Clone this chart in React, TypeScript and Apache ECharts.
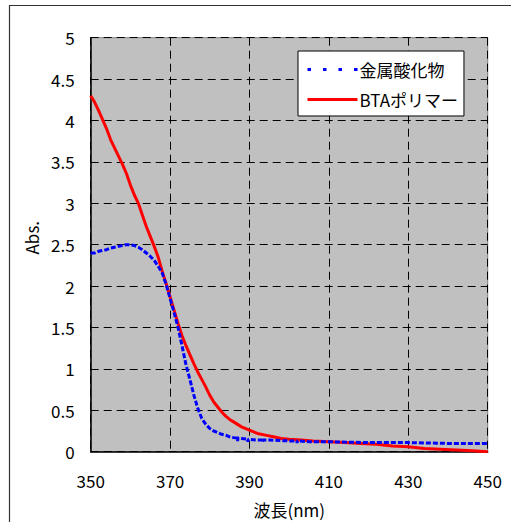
import React, { useEffect, useRef } from "react";
import * as echarts from "echarts";

const seriesNames = ["金属酸化物", "BTAポリマー"];

const oxideNm = [350, 351, 352, 353, 354, 355, 356, 357, 358, 359, 360, 361, 362, 363, 364, 365, 366, 367, 368, 369, 370, 371, 372, 373, 374, 375, 376, 377, 378, 379, 380, 381, 382, 383, 384, 385, 386, 386.9, 387, 387.1, 388, 389.5, 389.6, 389.7, 390, 392, 393.2, 393.3, 393.4, 395, 400, 401.9, 402, 402.1, 405, 410, 420, 430, 440, 450];
const oxideAbs = [2.40, 2.40, 2.42, 2.43, 2.44, 2.46, 2.47, 2.48, 2.49, 2.50, 2.50, 2.49, 2.47, 2.44, 2.40, 2.36, 2.31, 2.24, 2.16, 2.02, 1.85, 1.68, 1.50, 1.28, 1.05, 0.87, 0.68, 0.52, 0.40, 0.33, 0.28, 0.25, 0.23, 0.21, 0.20, 0.18, 0.17, 0.165, 0.13, 0.165, 0.16, 0.15, 0.12, 0.15, 0.15, 0.14, 0.14, 0.115, 0.14, 0.14, 0.13, 0.13, 0.105, 0.13, 0.12, 0.12, 0.11, 0.11, 0.10, 0.10];

const polymerNm = [350, 351, 352, 353, 354, 355, 356, 357, 358, 359, 360, 361, 362, 363, 364, 365, 366, 367, 368, 369, 370, 371, 372, 373, 374, 375, 376, 377, 378, 379, 380, 381, 382, 383, 384, 385, 386, 387, 388, 390, 392, 394, 396, 398, 400, 403, 406, 410, 414, 418, 422, 426, 430, 434, 438, 442, 446, 450];
const polymerAbs = [4.30, 4.22, 4.12, 4.01, 3.90, 3.77, 3.67, 3.57, 3.47, 3.36, 3.22, 3.10, 3.00, 2.86, 2.72, 2.60, 2.48, 2.35, 2.18, 2.03, 1.87, 1.71, 1.55, 1.40, 1.28, 1.17, 1.06, 0.96, 0.87, 0.78, 0.68, 0.60, 0.54, 0.48, 0.43, 0.39, 0.36, 0.33, 0.30, 0.26, 0.22, 0.20, 0.18, 0.16, 0.15, 0.14, 0.13, 0.12, 0.11, 0.10, 0.09, 0.07, 0.06, 0.04, 0.03, 0.02, 0.01, 0.00];

const xMin = 350;
const xMax = 450;
const xStep = 20;
const yMin = 0;
const yMax = 5;
const yStep = 0.5;

const FONT = "'Noto Sans CJK JP', 'Noto Sans', sans-serif";

export default function App() {
  const ref = useRef<HTMLDivElement>(null);
  useEffect(() => {
    document.body.style.margin = "0";
    if (!ref.current) return;
    const chart = echarts.init(ref.current, undefined, { renderer: "svg" });
    const oxideData = oxideNm.map((x, i) => [x, oxideAbs[i]]);
    const polymerData = polymerNm.map((x, i) => [x, polymerAbs[i]]);
    chart.setOption({
      animation: false,
      backgroundColor: "#ffffff",
      textStyle: { fontFamily: FONT },
      graphic: [
        {
          type: "rect",
          shape: { x: 9.5, y: 5.5, width: 700, height: 700 },
          style: { fill: "none", stroke: "#333333", lineWidth: 1.2 },
          silent: true,
          z: 100,
        },
      ],
      grid: {
        left: 90.7,
        top: 37.7,
        right: 23.3,
        bottom: 70.3,
        outerBoundsMode: "none",
        containLabel: false,
        show: true,
        backgroundColor: "#c0c0c0",
        borderColor: "#808080",
        borderWidth: 1,
      },
      legend: {
        orient: "vertical",
        left: 298,
        top: 51,
        backgroundColor: "#ffffff",
        borderColor: "#000000",
        borderWidth: 1,
        padding: [10, 6, 8, 8],
        itemGap: 13,
        itemWidth: 50,
        itemHeight: 14,
        textStyle: { fontFamily: FONT, fontSize: 17, color: "#000", padding: [0, 0, 0, -3] },
        data: [
          { name: seriesNames[0], lineStyle: { type: [3.5, 12], width: 3 }, itemStyle: { opacity: 0 } },
          { name: seriesNames[1], lineStyle: { type: "solid", width: 3 }, itemStyle: { opacity: 0 } },
        ],
      },
      xAxis: {
        type: "value",
        min: xMin,
        max: xMax,
        interval: xStep,
        name: "波長(nm)",
        nameLocation: "middle",
        nameGap: 49,
        nameTextStyle: { fontFamily: FONT, fontSize: 17, color: "#000" },
        axisLine: { show: true, onZero: false, lineStyle: { color: "#000", width: 1.5 } },
        axisTick: { show: false },
        axisLabel: { fontFamily: FONT, fontSize: 17, color: "#000", margin: 20 },
        splitLine: { show: true, lineStyle: { color: "#000", type: [8, 5], width: 1 } },
      },
      yAxis: {
        type: "value",
        min: yMin,
        max: yMax,
        interval: yStep,
        name: "Abs.",
        nameLocation: "middle",
        nameGap: 50,
        nameRotate: 90,
        nameTextStyle: { fontFamily: FONT, fontSize: 17, color: "#000", padding: [0, 0, 0, 14] },
        axisLine: { show: true, lineStyle: { color: "#000", width: 1.5 } },
        axisTick: { show: false },
        axisLabel: { fontFamily: FONT, fontSize: 17, color: "#000", margin: 16 },
        splitLine: { show: true, lineStyle: { color: "#000", type: [8, 5], width: 1 } },
      },
      series: [
        {
          name: seriesNames[0],
          type: "line",
          data: oxideData,
          symbol: "none",
          color: "#0000ff",
          lineStyle: { color: "#0000ff", width: 3, type: [5, 2] },
          z: 3,
        },
        {
          name: seriesNames[1],
          type: "line",
          data: polymerData,
          symbol: "none",
          color: "#ff0000",
          lineStyle: { color: "#ff0000", width: 3 },
          z: 2,
        },
      ],
    });
    return () => chart.dispose();
  }, []);
  return <div ref={ref} style={{ width: 511, height: 522 }} />;
}
